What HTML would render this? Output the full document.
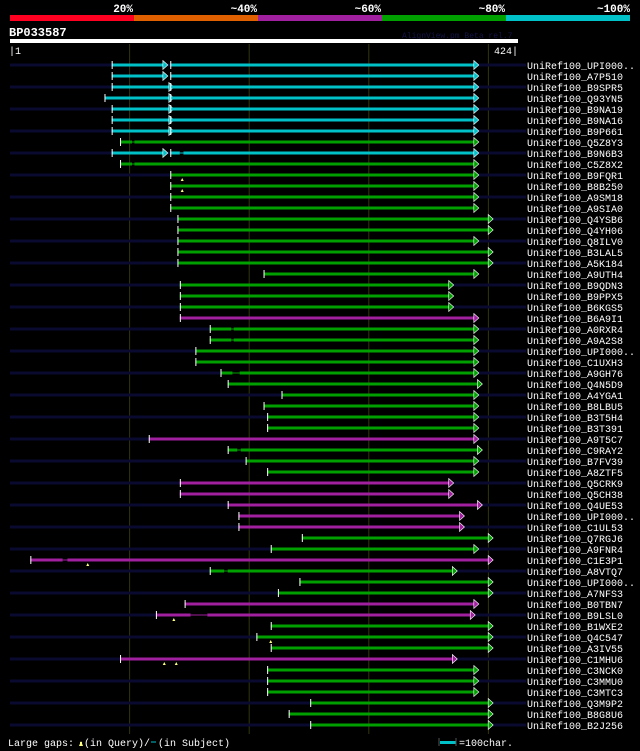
<!DOCTYPE html>
<html><head><meta charset="utf-8"><style>
html,body{margin:0;padding:0;background:#000;width:640px;height:751px;overflow:hidden}
svg{display:block}
text{font-family:"Liberation Mono",monospace;fill:#fff}
</style></head><body>
<svg id="chart" width="640" height="751" viewBox="0 0 640 751" xmlns="http://www.w3.org/2000/svg">
<rect width="640" height="751" fill="#000"/>
<g>
<rect x="10" y="15" width="124" height="6" fill="#ff0020"/>
<rect x="134" y="15" width="124" height="6" fill="#e06000"/>
<rect x="258" y="15" width="124" height="6" fill="#a020a0"/>
<rect x="382" y="15" width="124" height="6" fill="#00a000"/>
<rect x="506" y="15" width="124" height="6" fill="#00c0c8"/>
<text x="133" y="12" font-size="11" font-weight="bold" text-anchor="end">20%</text>
<text x="257" y="12" font-size="11" font-weight="bold" text-anchor="end">~40%</text>
<text x="381" y="12" font-size="11" font-weight="bold" text-anchor="end">~60%</text>
<text x="505" y="12" font-size="11" font-weight="bold" text-anchor="end">~80%</text>
<text x="630" y="12" font-size="11" font-weight="bold" text-anchor="end">~100%</text>
</g>
<text x="9" y="36" font-size="12" font-weight="bold">BP033587</text>
<text x="402" y="38" font-size="8" style="fill:#141448">AlignView.pm Beta rel.7</text>
<rect x="10" y="39" width="508" height="4" fill="#fff"/>
<text x="9" y="54" font-size="10">|1</text>
<text x="518" y="54" font-size="10" text-anchor="end">424|</text>
<g id="grid"></g>
<g id="rows"></g>
<text x="8" y="746" font-size="10">Large gaps:</text>
<polygon points="81,741 79,746 83,746" fill="#ffff80"/>
<rect x="80" y="742" width="2" height="4" fill="#ffff80"/>
<text x="84" y="746" font-size="10">(in Query)/</text>
<line x1="151" y1="742" x2="156" y2="742" stroke="#00c0c8" stroke-width="1"/>
<text x="158" y="746" font-size="10">(in Subject)</text>
<line x1="439" y1="738" x2="439" y2="746" stroke="#555" stroke-width="1"/>
<rect x="440" y="741" width="16" height="3" fill="#00c0c8"/>
<line x1="456" y1="738" x2="456" y2="746" stroke="#555" stroke-width="1"/>
<text x="459" y="746" font-size="10">=100char.</text>
</svg>
<script>
const names=["UPI000..","A7P510","B9SPR5","Q93YN5","B9NA19","B9NA16","B9P661","Q5Z8Y3","B9N6B3","C5Z8X2","B9FQR1","B8B250","A9SM18","A9SIA0","Q4YSB6","Q4YH06","Q8ILV0","B3LAL5","A5K184","A9UTH4","B9QDN3","B9PPX5","B6KGS5","B6A9I1","A0RXR4","A9A2S8","UPI000..","C1UXH3","A9GH76","Q4N5D9","A4YGA1","B8LBU5","B3T5H4","B3T391","A9T5C7","C9RAY2","B7FV39","A8ZTF5","Q5CRK9","Q5CH38","Q4UE53","UPI000..","C1UL53","Q7RGJ6","A9FNR4","C1E3P1","A8VTQ7","UPI000..","A7NFS3","B0TBN7","B9LSL0","B1WXE2","Q4C547","A3IV55","C1MHU6","C3NCK0","C3MMU0","C3MTC3","Q3M9P2","B8G8U6","B2J256"];
const starts=[85,85,85,79,85,85,85,92,85,92,134,134,134,134,140,140,140,140,140,212,142,142,142,142,167,167,155,155,176,182,227,212,215,215,116,182,197,215,142,142,182,191,191,244,218,17,167,242,224,146,122,218,206,218,92,215,215,215,251,233,251];
const ends=[392,392,392,392,392,392,392,392,392,392,392,392,392,392,404,404,392,404,404,392,371,371,371,392,392,392,392,392,392,395,392,392,392,392,392,395,392,392,371,371,395,380,380,404,392,404,374,404,404,392,389,404,404,404,374,392,392,392,404,404,404];
const colors=["c","c","c","c","c","c","c","g","c","g",
"g","g","g","g","g","g","g","g","g","g",
"g","g","g","m","g","g","g","g","g","g",
"g","g","g","g","m","g","g","g","m","m",
"m","m","m","g","g","m","g","g","g","m",
"m","g","g","g","m","g","g","g","g","g","g"];
const background=[1,0,1,0,1,0,1,0,1,0,1,0,1,0,1,0,1,0,1,0,1,0,1,0,1,0,1,0,1,0,1,0,1,0,1,0,1,0,1,0,1,0,1,0,1,0,1,0,1,0,1,0,1,0,1,0,1,0,1,0,1];
const breaks=[[0,132,134],[1,132,134],[2,137,134],[3,137,134],[4,137,134],[5,137,134],[6,137,134],[8,132,134]];
const subjectGaps=[[7,102,104],[8,142,145],[9,102,104],[24,185,187],[25,185,187],[28,186,192],[35,190,193],[45,44,48],[46,179,182],[50,151,165]];
const queryGaps=[[10,144],[11,144],[45,65],[50,137],[52,218],[54,129],[54,139]];
const gridTicks=[100,200,300,400];
const colMap={c:"#00c0c8",g:"#00a000",m:"#a020a0"};
const X=p=>10+p*1.196;
const rowY=i=>65+i*11;
const NS="http://www.w3.org/2000/svg";
function mk(tag,attrs,parent){const e=document.createElementNS(NS,tag);for(const k in attrs)e.setAttribute(k,attrs[k]);parent.appendChild(e);return e;}
const grid=document.getElementById('grid');
gridTicks.forEach(t=>{
  const l=mk('line',{x1:X(t),x2:X(t),y1:44,y2:734,stroke:"#34340e","stroke-width":1},grid);
  
  
});
const rows=document.getElementById('rows');
function seg(g,a,b,y,col,arrow){
  mk('rect',{x:X(a),y:y-1.5,width:Math.max(0,X(b)-X(a)-(arrow?4:0)),height:3,fill:col},g);
  mk('line',{x1:X(a)+0.5,x2:X(a)+0.5,y1:y-4,y2:y+4,stroke:"#fff","stroke-width":1},g);
  if(arrow){const t=X(b);mk('polygon',{points:`${t-5},${y-4.5} ${t},${y} ${t-5},${y+4.5}`,fill:col,stroke:"#fff","stroke-width":0.6},g);}
}
names.forEach((n,i)=>{
  const y=rowY(i),col=colMap[colors[i]];
  const g=mk('g',{},rows);
  
  
  if(background[i]){mk('rect',{x:10,y:y-1.5,width:516,height:3,fill:"#0a0a30"},g);}
  const br=breaks.filter(b=>b[0]===i);
  if(br.length){br.forEach(b=>{seg(g,starts[i],b[1],y,col,true);seg(g,b[2],ends[i],y,col,true);});}
  else seg(g,starts[i],ends[i],y,col,true);
  subjectGaps.filter(s=>s[0]===i).forEach(s=>{
    mk('rect',{x:X(s[1]),y:y-1.5,width:X(s[2])-X(s[1]),height:3,fill:"#000"},g);
    mk('line',{x1:X(s[1]),x2:X(s[2]),y1:y,y2:y,stroke:col,"stroke-width":1},g);
  });
  queryGaps.filter(q=>q[0]===i).forEach(q=>{
    const x=X(q[1]);
    const m=mk('polygon',{points:`${x},${y+3} ${x-1.5},${y+6} ${x+1.5},${y+6}`,fill:"#ffff80"},g);
    
    
  });
  const t=mk('text',{x:527,y:y+4,"font-size":10},g);
  t.textContent='UniRef100_'+n;
  
  
});
</script>
</body></html>
